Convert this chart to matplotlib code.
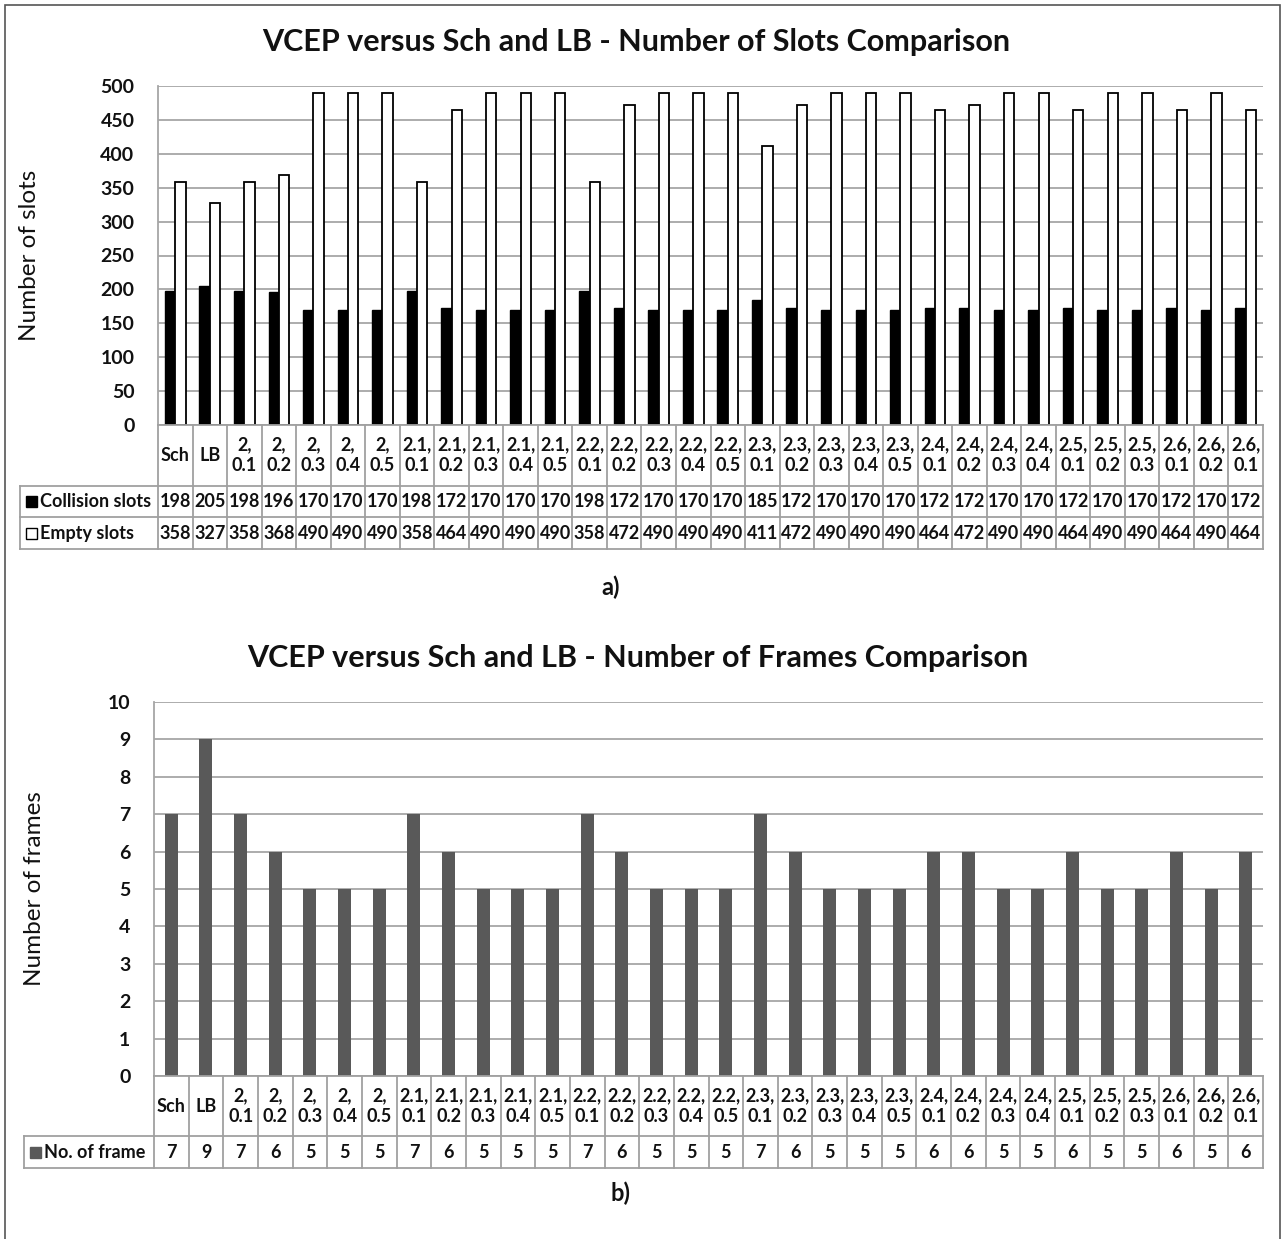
import matplotlib
matplotlib.use("Agg")
import matplotlib.pyplot as plt
from matplotlib.patches import Rectangle
from matplotlib.transforms import blended_transform_factory
from matplotlib.lines import Line2D

plt.rcParams['font.family'] = ['Lato', 'DejaVu Sans']

categories = ["Sch", "LB",
              "2,\n0.1", "2,\n0.2", "2,\n0.3", "2,\n0.4", "2,\n0.5",
              "2.1,\n0.1", "2.1,\n0.2", "2.1,\n0.3", "2.1,\n0.4", "2.1,\n0.5",
              "2.2,\n0.1", "2.2,\n0.2", "2.2,\n0.3", "2.2,\n0.4", "2.2,\n0.5",
              "2.3,\n0.1", "2.3,\n0.2", "2.3,\n0.3", "2.3,\n0.4", "2.3,\n0.5",
              "2.4,\n0.1", "2.4,\n0.2", "2.4,\n0.3", "2.4,\n0.4",
              "2.5,\n0.1", "2.5,\n0.2", "2.5,\n0.3",
              "2.6,\n0.1", "2.6,\n0.2", "2.6,\n0.1"]
collision_slots = [198, 205, 198, 196, 170, 170, 170, 198, 172, 170, 170, 170, 198, 172, 170, 170,
                   170, 185, 172, 170, 170, 170, 172, 172, 170, 170, 172, 170, 170, 172, 170, 172]
empty_slots = [358, 327, 358, 368, 490, 490, 490, 358, 464, 490, 490, 490, 358, 472, 490, 490,
               490, 411, 472, 490, 490, 490, 464, 472, 490, 490, 464, 490, 490, 464, 490, 464]
frames = [7, 9, 7, 6, 5, 5, 5, 7, 6, 5, 5, 5, 7, 6, 5, 5,
          5, 7, 6, 5, 5, 5, 6, 6, 5, 5, 6, 5, 5, 6, 5, 6]

W, H = 1284, 1239
fig = plt.figure(figsize=(W / 100, H / 100), dpi=100)
TXT = '#111111'
GRID = '#a6a6a6'
TBL = '#a0a0a0'
TFS = 13  # table font size


def fx(x):
    return x / W


def fy(y):
    return 1 - y / H


# outer frame
fig.patches.append(Rectangle((fx(5), fy(1250)), fx(1280) - fx(5), fy(5) - fy(1250),
                             transform=fig.transFigure, fill=False, edgecolor='#555555',
                             linewidth=1.2, clip_on=True))

n = len(categories)
xs = list(range(n))


def setup_axes(left, right, top, bottom, ymax, ystep, ylabel, ylabel_x):
    ax = fig.add_axes([fx(left), fy(bottom), fx(right) - fx(left), fy(top) - fy(bottom)])
    ax.set_xlim(-0.5, n - 0.5)
    ax.set_ylim(0, ymax)
    ax.set_yticks([i * ystep for i in range(int(ymax / ystep) + 1)])
    ax.yaxis.grid(True, color=GRID, linewidth=1.3)
    ax.set_axisbelow(True)
    for s in ['right', 'bottom', 'top']:
        ax.spines[s].set_visible(False)
    ax.spines['left'].set_color(GRID)
    ax.spines['left'].set_linewidth(1.3)
    ax.set_xticks([])
    ax.tick_params(axis='y', length=0, pad=17, labelsize=14, labelcolor=TXT)
    for lab in ax.get_yticklabels():
        lab.set_fontweight('bold')
    fig.text(fx(ylabel_x), fy((top + bottom) / 2), ylabel, rotation=90, ha='center',
             va='center', fontsize=17.5, color=TXT)
    return ax


def draw_table(ax, label_top, label_bottom, rows, legend_left, left_px, right_px):
    tr = blended_transform_factory(ax.transData, fig.transFigure)
    trf = fig.transFigure
    ys_all = [label_top, label_bottom] + [r[3] for r in rows]
    lw = 1.3
    for i in range(n + 1):
        x = i - 0.5
        fig.add_artist(Line2D([x, x], [fy(label_top), fy(ys_all[-1])], transform=tr,
                              color=TBL, linewidth=lw))
    for y in ys_all[1:]:
        fig.add_artist(Line2D([fx(legend_left), fx(right_px)], [fy(y), fy(y)], transform=trf,
                              color=TBL, linewidth=lw))
    fig.add_artist(Line2D([fx(left_px), fx(right_px)], [fy(label_top), fy(label_top)],
                          transform=trf, color=TBL, linewidth=lw))
    fig.add_artist(Line2D([fx(legend_left), fx(legend_left)], [fy(label_bottom), fy(ys_all[-1])],
                          transform=trf, color=TBL, linewidth=lw))
    for i, c in enumerate(categories):
        t = fig.text(0, 0, c, transform=tr, ha='center', va='center', fontsize=TFS,
                     fontweight='bold', color=TXT, linespacing=1.25)
        t.set_position((i, fy((label_top + label_bottom) / 2)))
    prev = label_bottom
    for name, vals, swatch, ybot in rows:
        ymid = fy((prev + ybot) / 2)
        for i, v in enumerate(vals):
            t = fig.text(0, 0, str(v), transform=tr, ha='center', va='center', fontsize=TFS,
                         fontweight='bold', color=TXT)
            t.set_position((i, ymid))
        fc, ec = swatch
        sw = 11
        fig.patches.append(Rectangle((fx(legend_left + 6), ymid - (sw / 2) / H), sw / W, sw / H,
                                     transform=trf, facecolor=fc, edgecolor=ec, linewidth=1.0))
        fig.text(fx(legend_left + 6 + sw + 3), ymid, name, ha='left', va='center', fontsize=TFS,
                 fontweight='bold', color=TXT)
        prev = ybot


# ---------- Panel a ----------
fig.text(fx(636), fy(42), "VCEP versus Sch and LB - Number of Slots Comparison", ha='center',
         va='center', fontsize=22, fontweight='bold', color=TXT)
ax1 = setup_axes(158, 1263, 86, 425, 500, 50, "Number of slots", 30)
bw = 0.3
ax1.bar([x - 0.15 for x in xs], collision_slots, width=bw, color='black', edgecolor='black',
        linewidth=1.0, zorder=3)
ax1.bar([x + 0.15 for x in xs], empty_slots, width=bw, color='white', edgecolor='black',
        linewidth=1.3, zorder=3)
draw_table(ax1, 425, 486, [("Collision slots", collision_slots, ('black', 'black'), 517),
                           ("Empty slots", empty_slots, ('white', 'black'), 549)],
           20, 158, 1263)
fig.text(fx(611), fy(587), "a)", ha='center', va='center', fontsize=17, fontweight='bold',
         color=TXT)

# ---------- Panel b ----------
fig.text(fx(638), fy(658), "VCEP versus Sch and LB - Number of Frames Comparison", ha='center',
         va='center', fontsize=22, fontweight='bold', color=TXT)
ax2 = setup_axes(154, 1263, 702, 1076, 10, 1, "Number of frames", 35)
ax2.bar(xs, frames, width=0.375, color='#595959', edgecolor='none', zorder=3)
draw_table(ax2, 1076, 1136, [("No. of frame", frames, ('#595959', '#595959'), 1168)],
           24, 154, 1263)
fig.text(fx(620), fy(1193), "b)", ha='center', va='center', fontsize=17, fontweight='bold',
         color=TXT)

fig.savefig("out.png", dpi=100)
